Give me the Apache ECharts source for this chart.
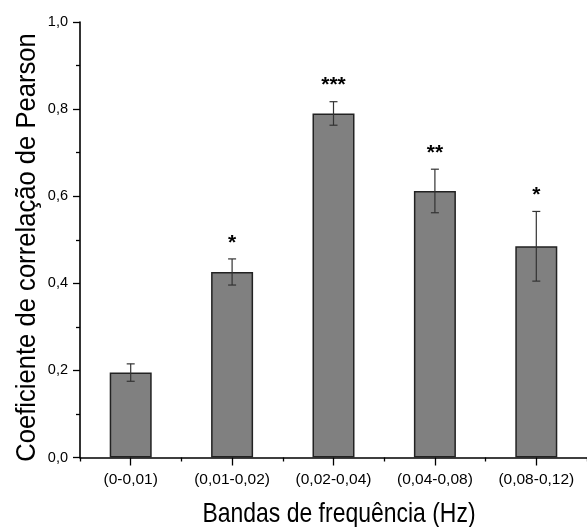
<!DOCTYPE html>
<html>
<head>
<meta charset="utf-8">
<script src="https://cdn.jsdelivr.net/npm/echarts@6/dist/echarts.min.js"></script>
<style>
  html, body { margin: 0; padding: 0; background: #fff; }
  #chart { width: 587px; height: 527px; }
</style>
</head>
<body>
<div id="chart"></div>
<script>
// Frequency bands and mean Pearson correlation per band
const categories = ['(0-0,01)', '(0,01-0,02)', '(0,02-0,04)', '(0,04-0,08)', '(0,08-0,12)'];
const means = [0.195, 0.426, 0.790, 0.612, 0.485];
const errors = [0.020, 0.030, 0.027, 0.050, 0.080];
const stars = ['', '*', '***', '**', '*'];
const yTickLabels = ['0,0', '0,2', '0,4', '0,6', '0,8', '1,0'];
const xTitle = 'Bandas de frequência (Hz)';
const yTitle = 'Coeficiente de correlação de Pearson';

const FONT = 'Liberation Sans, Arial, sans-serif';
const chart = echarts.init(document.getElementById('chart'), null, { renderer: 'canvas' });

const errorData = means.map((m, i) => [i, m, errors[i]]);

chart.setOption({
  animation: false,
  backgroundColor: '#fff',
  grid: { left: 80, top: 22, width: 515, height: 435.5, containLabel: false },
  // axis titles, set in a slightly condensed face
  graphic: [
    {
      type: 'text', x: 339, y: 514, scaleX: 0.82,
      style: { text: xTitle, x: 0, y: 0, align: 'center', verticalAlign: 'middle',
               font: '28px ' + FONT, fill: '#000' }
    },
    {
      type: 'text', x: 27, y: 247.5, rotation: Math.PI / 2, scaleX: 0.915,
      style: { text: yTitle, x: 0, y: 0, align: 'center', verticalAlign: 'middle',
               font: '28px ' + FONT, fill: '#000' }
    }
  ],
  xAxis: [
    {
      type: 'category',
      data: categories,
      position: 'bottom',
      axisLine: { show: true, lineStyle: { color: '#000', width: 1.6 } },
      axisTick: { show: true, alignWithLabel: true, length: 8, lineStyle: { color: '#000', width: 1.3 } },
      axisLabel: { fontFamily: FONT, fontSize: 15.5, color: '#000', margin: 14 },
      splitLine: { show: false }
    },
    {
      // band boundaries: short ticks between categories
      type: 'category',
      data: categories,
      position: 'bottom',
      axisLine: { show: false },
      axisTick: { show: true, alignWithLabel: false, length: 4, lineStyle: { color: '#000', width: 1.3 } },
      axisLabel: { show: false },
      splitLine: { show: false }
    }
  ],
  yAxis: {
    type: 'value',
    min: 0,
    max: 1,
    interval: 0.2,
    axisLine: { show: true, lineStyle: { color: '#000', width: 1.6 } },
    axisTick: { show: true, length: 7, lineStyle: { color: '#000', width: 1.3 } },
    minorTick: { show: true, splitNumber: 2, length: 4, lineStyle: { color: '#000', width: 1.3 } },
    splitLine: { show: false },
    axisLabel: {
      fontFamily: FONT, fontSize: 14.5, color: '#000', margin: 12,
      formatter: v => yTickLabels[Math.round(v / 0.2)]
    }
  },
  series: [
    {
      type: 'bar',
      data: means,
      barWidth: 42,
      xAxisIndex: 0,
      itemStyle: { color: '#808080', borderColor: '#222', borderWidth: 1.5 }
    },
    {
      type: 'custom',
      xAxisIndex: 0,
      data: errorData,
      encode: { x: 0, y: 1 },
      z: 10,
      renderItem: function (params, api) {
        const idx = api.value(0);
        const m = api.value(1);
        const e = api.value(2);
        const hi = api.coord([idx, m + e]);
        const lo = api.coord([idx, m - e]);
        const cap = 4;
        const line = { stroke: '#333', lineWidth: 1.2 };
        return {
          type: 'group',
          children: [
            { type: 'line', shape: { x1: hi[0], y1: hi[1], x2: lo[0], y2: lo[1] }, style: line },
            { type: 'line', shape: { x1: hi[0] - cap, y1: hi[1], x2: hi[0] + cap, y2: hi[1] }, style: line },
            { type: 'line', shape: { x1: lo[0] - cap, y1: lo[1], x2: lo[0] + cap, y2: lo[1] }, style: line },
            {
              type: 'text',
              style: {
                text: stars[params.dataIndex],
                x: hi[0],
                y: hi[1] - 16,
                align: 'center',
                verticalAlign: 'middle',
                font: 'bold 21px ' + FONT,
                fill: '#000'
              }
            }
          ]
        };
      }
    }
  ]
});
</script>
</body>
</html>
